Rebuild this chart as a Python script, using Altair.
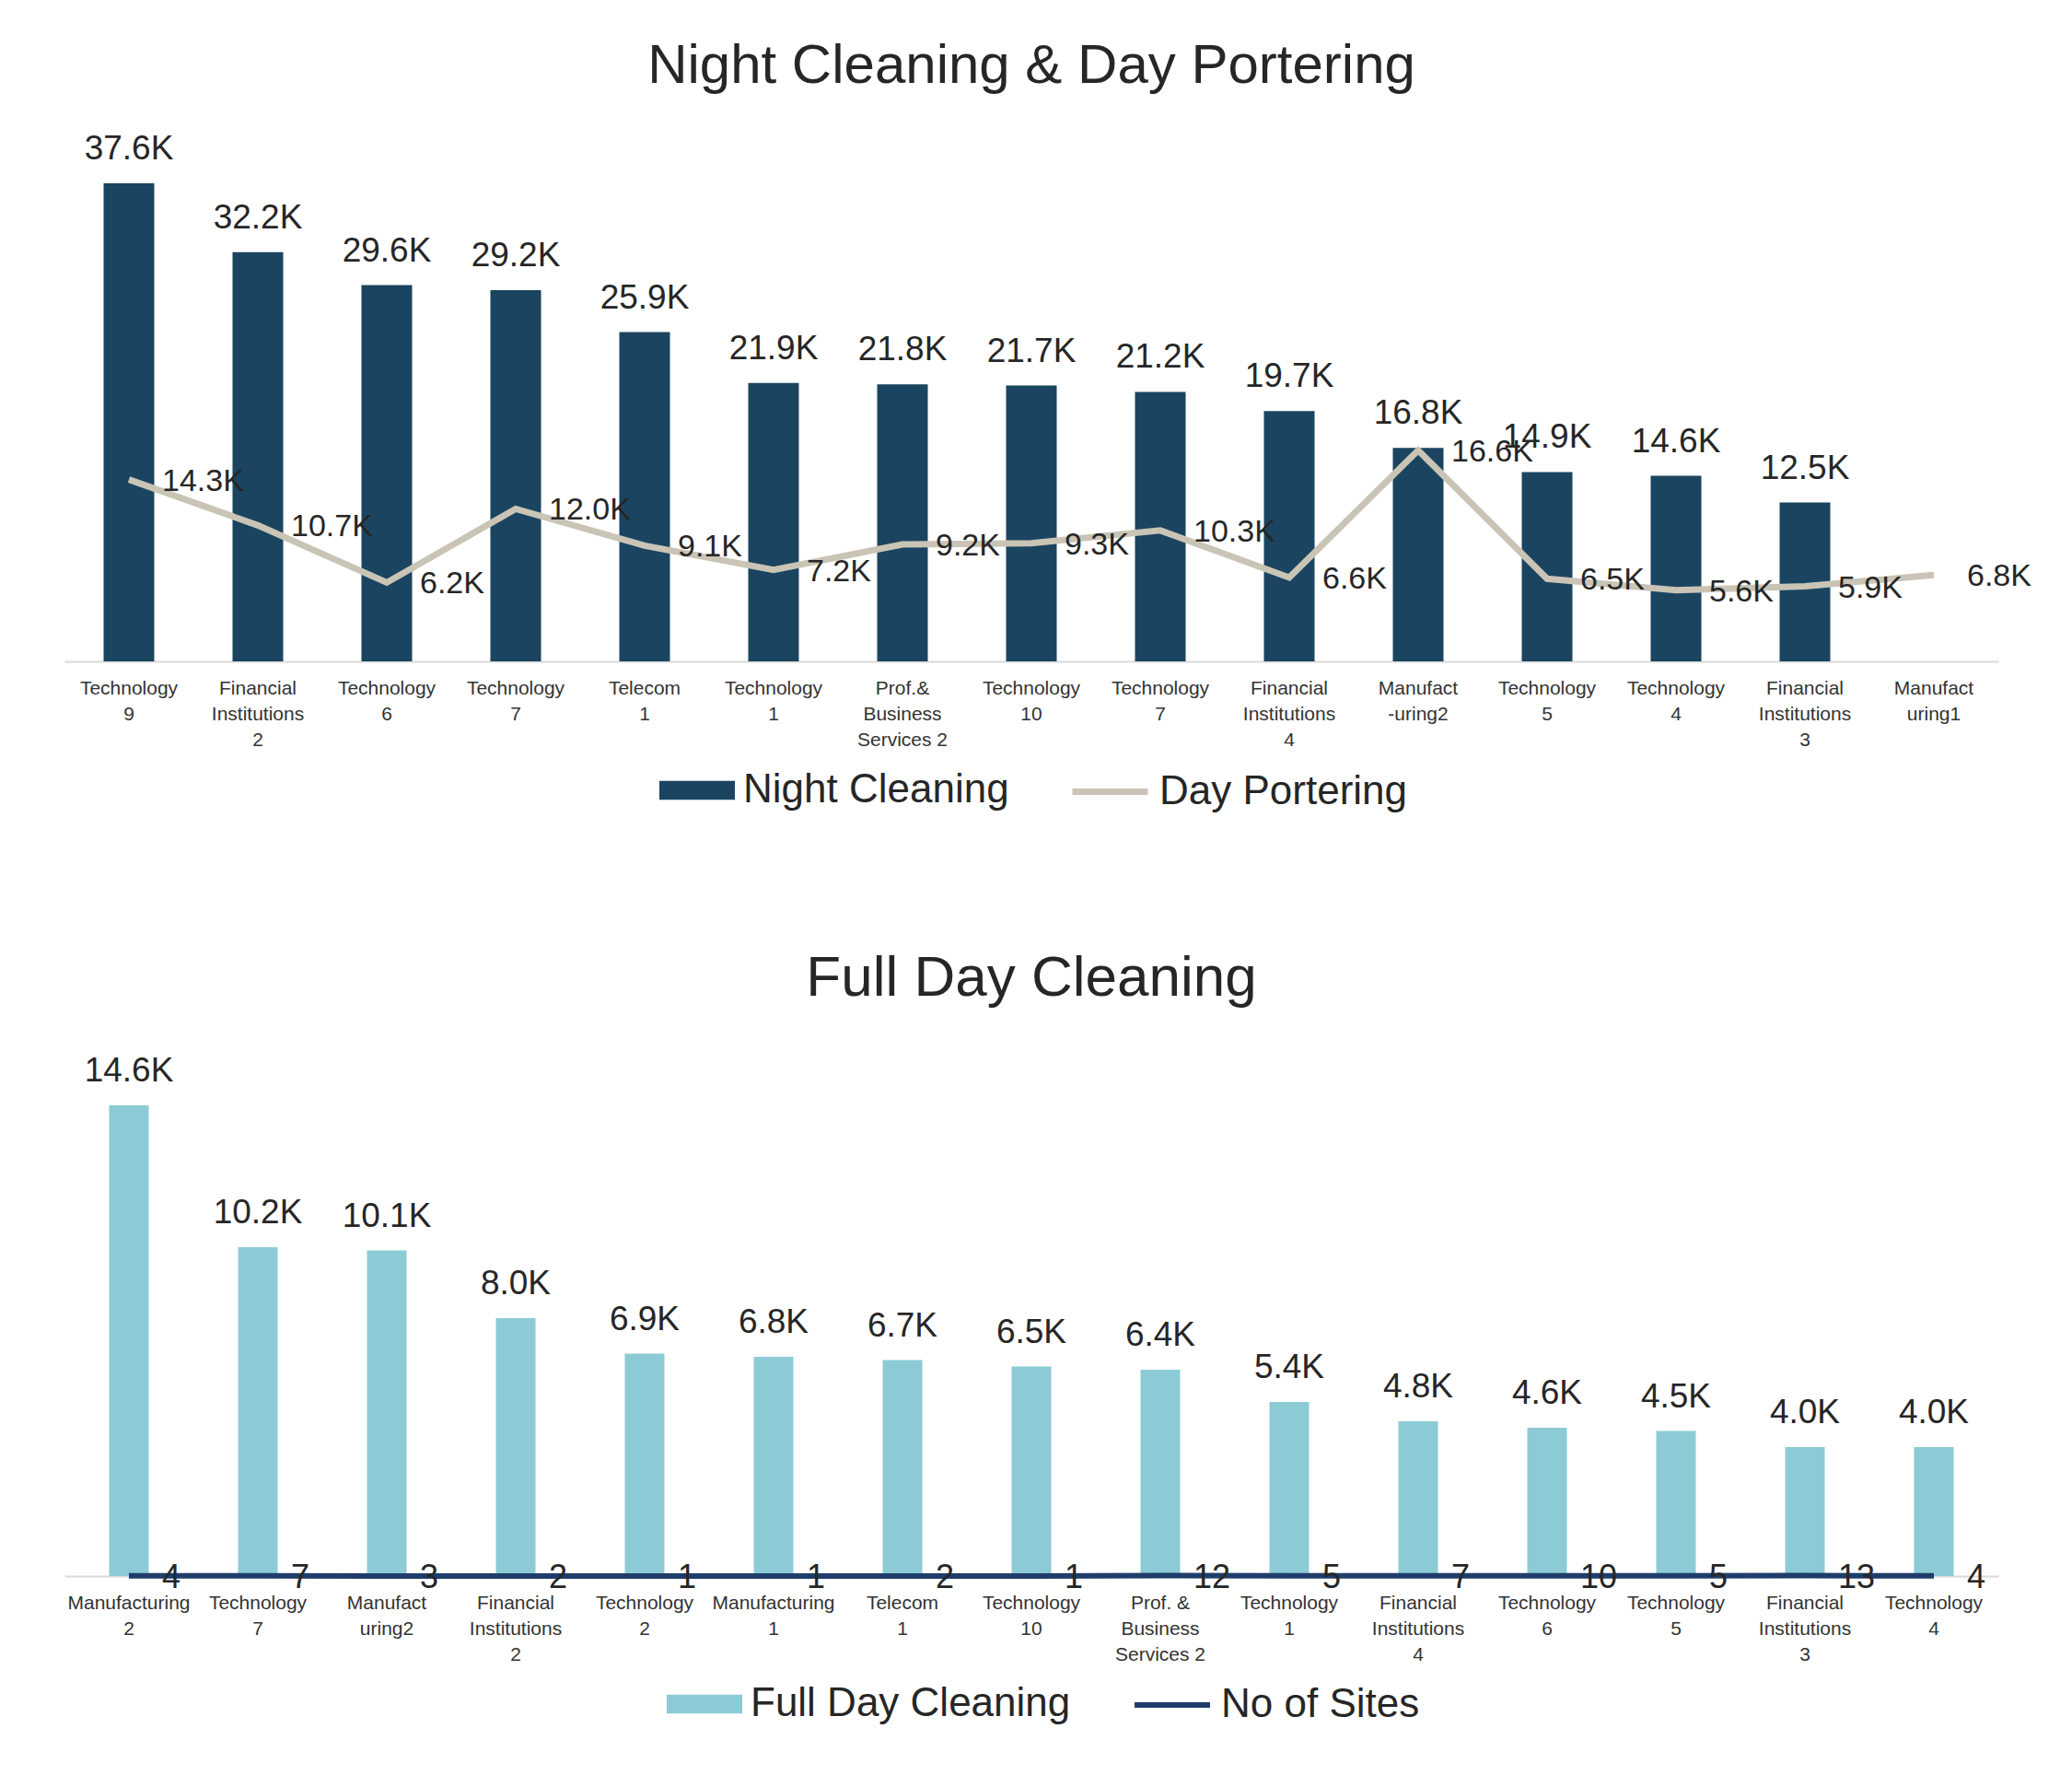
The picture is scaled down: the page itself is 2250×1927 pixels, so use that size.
import json
import altair as alt
import pandas as pd

# ---------------- data ----------------
top_labels = ["Technology|9", "Financial|Institutions|2", "Technology|6", "Technology|7",
              "Telecom|1", "Technology|1", "Prof.&|Business|Services 2", "Technology|10",
              "Technology|7", "Financial|Institutions|4", "Manufact|-uring2", "Technology|5",
              "Technology|4", "Financial|Institutions|3", "Manufact|uring1"]
night_cleaning = [37600, 32200, 29600, 29200, 25900, 21900, 21800, 21700, 21200, 19700,
                  16800, 14900, 14600, 12500, None]
day_portering = [14300, 10700, 6200, 12000, 9100, 7200, 9200, 9300, 10300, 6600,
                 16600, 6500, 5600, 5900, 6800]

bottom_labels = ["Manufacturing|2", "Technology|7", "Manufact|uring2", "Financial|Institutions|2",
                 "Technology|2", "Manufacturing|1", "Telecom|1", "Technology|10",
                 "Prof. &|Business|Services 2", "Technology|1", "Financial|Institutions|4",
                 "Technology|6", "Technology|5", "Financial|Institutions|3", "Technology|4"]
full_day_cleaning = [14600, 10200, 10100, 8000, 6900, 6800, 6700, 6500, 6400, 5400,
                     4800, 4600, 4500, 4000, 4000]
no_of_sites = [4, 7, 3, 2, 1, 1, 2, 1, 12, 5, 7, 10, 5, 13, 4]

# ---------------- style ----------------
FONT = "Liberation Sans"
NAVY_BAR = "#1b4460"
BEIGE = "#c9c4b5"
TEAL = "#8ccbd5"
NAVY_LINE = "#1f3d6b"
TXT = "#262626"

top_df = pd.DataFrame({"idx": list(range(len(top_labels))),
                       "night": night_cleaning, "day": day_portering})
bot_df = pd.DataFrame({"idx": list(range(len(bottom_labels))),
                       "full": full_day_cleaning, "sites": no_of_sites})


def x_enc(labels):
    expr = "split(" + json.dumps(labels) + "[datum.value], '|')"
    return alt.X("idx:O",
                 scale=alt.Scale(paddingInner=0, paddingOuter=0),
                 axis=alt.Axis(title=None, labelExpr=expr, labelAngle=0, labelFont=FONT,
                               labelFontSize=21, labelColor="#333333", labelLineHeight=28,
                               labelPadding=18, labelOverlap=False, labelLimit=0,
                               ticks=False, domainColor="#d9d9d9", domainWidth=2,
                               labelBaseline="top"))


def rect_legend(x, y):
    return alt.Legend(title=None, orient="none", legendX=x, legendY=y, padding=0,
                      symbolType="M-1,-0.25H1V0.25H-1Z", symbolSize=6724,
                      symbolStrokeWidth=0, labelFont=FONT, labelFontSize=44,
                      labelColor=TXT, labelOffset=9, labelLimit=0)


def line_legend(x, y, width):
    return alt.Legend(title=None, orient="none", legendX=x, legendY=y, padding=0,
                      symbolType="stroke", symbolSize=6724, symbolStrokeWidth=width,
                      labelFont=FONT, labelFontSize=44, labelColor=TXT,
                      labelOffset=9, labelLimit=0)


# ---------------- top chart ----------------
ytop = alt.Y("night:Q", scale=alt.Scale(domain=[0, 40000]), axis=None)
base_top = alt.Chart(top_df)

bars_top = base_top.transform_filter("isValid(datum.night)").transform_calculate(
    series="'Night Cleaning'"
).mark_bar(size=55).encode(
    x=x_enc(top_labels),
    y=ytop,
    color=alt.Color("series:N", scale=alt.Scale(domain=["Night Cleaning"], range=[NAVY_BAR]),
                    legend=rect_legend(646, 651)),
)

bar_lbl_top = base_top.transform_filter("isValid(datum.night)").transform_calculate(
    lab="format(datum.night/1000, '.1f') + 'K'"
).mark_text(baseline="bottom", dy=-18, font=FONT, fontSize=37, color=TXT).encode(
    x="idx:O", y=ytop, text="lab:N")

line_top = base_top.transform_calculate(series2="'Day Portering'").mark_line(
    strokeWidth=7).encode(
    x="idx:O",
    y=alt.Y("day:Q", scale=alt.Scale(domain=[0, 40000]), axis=None),
    stroke=alt.Stroke("series2:N", scale=alt.Scale(domain=["Day Portering"], range=[BEIGE]),
                      legend=line_legend(1091, 649, 7)),
)

line_lbl_top = base_top.transform_calculate(
    lab="format(datum.day/1000, '.1f') + 'K'"
).mark_text(align="left", baseline="middle", dx=36, dy=2, font=FONT, fontSize=34,
            color=TXT).encode(
    x="idx:O", y=alt.Y("day:Q", scale=alt.Scale(domain=[0, 40000]), axis=None),
    text="lab:N")

top = alt.layer(bars_top, line_top, bar_lbl_top, line_lbl_top).properties(
    width=2100, height=552,
    title=alt.TitleParams("Night Cleaning & Day Portering", font=FONT, fontSize=60,
                          fontWeight="normal", color=TXT, anchor="middle", offset=40),
)

# ---------------- bottom chart ----------------
ybot = alt.Y("full:Q", scale=alt.Scale(domain=[0, 16000]), axis=None)
base_bot = alt.Chart(bot_df)

bars_bot = base_bot.transform_calculate(series="'Full Day Cleaning'").mark_bar(size=43).encode(
    x=x_enc(bottom_labels),
    y=ybot,
    color=alt.Color("series:N", scale=alt.Scale(domain=["Full Day Cleaning"], range=[TEAL]),
                    legend=rect_legend(654, 658)),
)

bar_lbl_bot = base_bot.transform_calculate(
    lab="format(datum.full/1000, '.1f') + 'K'"
).mark_text(baseline="bottom", dy=-18, font=FONT, fontSize=37, color=TXT).encode(
    x="idx:O", y=ybot, text="lab:N")

line_bot = base_bot.transform_calculate(series2="'No of Sites'").mark_line(
    strokeWidth=6).encode(
    x="idx:O",
    y=alt.Y("sites:Q", scale=alt.Scale(domain=[0, 16000]), axis=None),
    stroke=alt.Stroke("series2:N", scale=alt.Scale(domain=["No of Sites"], range=[NAVY_LINE]),
                      legend=line_legend(1159, 656, 6)),
)

line_lbl_bot = base_bot.mark_text(align="left", baseline="middle", dx=36, dy=2, font=FONT,
                                  fontSize=36, color=TXT).encode(
    x="idx:O", y=alt.Y("sites:Q", scale=alt.Scale(domain=[0, 16000]), axis=None),
    text="sites:N")

bottom = alt.layer(bars_bot, line_bot, bar_lbl_bot, line_lbl_bot).properties(
    width=2100, height=560,
    title=alt.TitleParams("Full Day Cleaning", font=FONT, fontSize=62,
                          fontWeight="normal", color=TXT, anchor="middle", offset=50),
)

chart = alt.vconcat(top, bottom, spacing=149).resolve_scale(
    color="independent", stroke="independent", x="independent", y="independent"
).resolve_legend(color="independent", stroke="independent").properties(
    padding={"left": 62, "top": 34, "right": 20, "bottom": 10},
    background="white",
).configure_view(stroke=None)

chart.save("out.html", embed_options={"renderer": "svg", "actions": False})
